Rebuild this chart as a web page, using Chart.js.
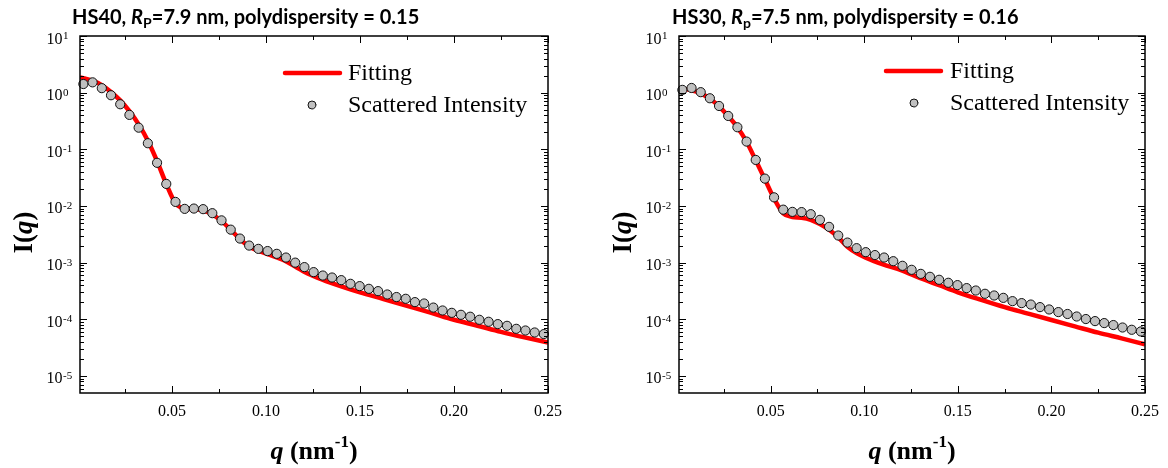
<!DOCTYPE html>
<html>
<head>
<meta charset="utf-8">
<title>SAXS fitting HS40 / HS30</title>
<script src="https://cdn.jsdelivr.net/npm/chart.js@4.4.1/dist/chart.umd.min.js"></script>
<style>
  html, body { margin: 0; padding: 0; background: #fff; }
  #figure { position: relative; width: 1168px; height: 468px; overflow: hidden; }
  #figure canvas { position: absolute; top: 0; }
</style>
</head>
<body>
<div id="figure">
  <canvas id="chartHS40" width="599" height="468" style="left:0"></canvas>
  <canvas id="chartHS30" width="569" height="468" style="left:599px"></canvas>
</div>
<script>
// measured q values (nm^-1), same grid for both samples
const qMeasured = [0.0028, 0.0077, 0.0126, 0.0175, 0.0224, 0.0273, 0.0322, 0.0371, 0.0420, 0.0469,
  0.0518, 0.0567, 0.0616, 0.0665, 0.0714, 0.0763, 0.0812, 0.0861, 0.0910, 0.0959,
  0.1008, 0.1057, 0.1106, 0.1155, 0.1204, 0.1253, 0.1302, 0.1351, 0.1400, 0.1449,
  0.1498, 0.1547, 0.1596, 0.1645, 0.1694, 0.1743, 0.1792, 0.1841, 0.1890, 0.1939,
  0.1988, 0.2037, 0.2086, 0.2135, 0.2184, 0.2233, 0.2282, 0.2331, 0.2380, 0.2429, 0.2478];

const intensityHS40 = [1.42, 1.52, 1.20, 0.90, 0.624, 0.405, 0.241, 0.128, 0.0578, 0.0245,
  0.0118, 0.00889, 0.0090, 0.00879, 0.00746, 0.00557, 0.00382, 0.00266, 0.00200, 0.00175,
  0.00160, 0.00143, 0.00123, 0.00100, 0.000834, 0.000680, 0.000592, 0.000546, 0.000491, 0.000423,
  0.000385, 0.000345, 0.000314, 0.000274, 0.000247, 0.000230, 0.000201, 0.000190, 0.000161, 0.000143,
  0.000130, 0.000120, 0.000111, 0.0000980, 0.0000904, 0.0000822, 0.0000767, 0.0000679, 0.0000634, 0.0000585, 0.0000548];

const intensityHS30 = [1.12, 1.21, 1.02, 0.796, 0.582, 0.388, 0.245, 0.137, 0.0650, 0.0304,
  0.0142, 0.00861, 0.00787, 0.00780, 0.00716, 0.00569, 0.00428, 0.00301, 0.00226, 0.00180,
  0.00153, 0.00136, 0.00123, 0.00106, 0.000879, 0.000747, 0.000634, 0.000562, 0.000498, 0.000441,
  0.000401, 0.000355, 0.000322, 0.000282, 0.000263, 0.000239, 0.000209, 0.000193, 0.000182, 0.000164,
  0.000149, 0.000134, 0.000124, 0.000112, 0.000101, 0.0000929, 0.0000857, 0.0000791, 0.0000716, 0.0000653, 0.0000610];

// fitted curves
const qFit = [0.001, 0.0028, 0.0077, 0.0126, 0.0175, 0.0224, 0.0273, 0.0322, 0.0371, 0.042,
  0.0469, 0.0518, 0.0567, 0.0616, 0.0665, 0.0714, 0.0763, 0.0812, 0.0861, 0.091,
  0.0959, 0.1008, 0.11, 0.12, 0.13, 0.14, 0.15, 0.1625, 0.175, 0.1875,
  0.20, 0.2125, 0.225, 0.2375, 0.25];

const fitHS40 = [1.86, 1.80, 1.64, 1.36, 1.03, 0.73, 0.47, 0.275, 0.142, 0.062,
  0.0245, 0.0112, 0.0090, 0.0088, 0.0083, 0.0071, 0.0054, 0.0038, 0.0026, 0.00192,
  0.00162, 0.00141, 0.00108, 0.00070, 0.00050, 0.00038, 0.000298, 0.000228, 0.000173, 0.000131,
  0.000098, 0.000077, 0.000060, 0.000048, 0.000039];

const fitHS30 = [1.17, 1.16, 1.10, 0.97, 0.78, 0.575, 0.385, 0.245, 0.136, 0.064,
  0.0295, 0.0135, 0.0074, 0.0064, 0.0062, 0.0057, 0.0048, 0.0038, 0.0028, 0.0019,
  0.00147, 0.00122, 0.00093, 0.00073, 0.00053, 0.00040, 0.000300, 0.000220, 0.000164, 0.000126,
  0.000097, 0.000075, 0.000058, 0.000046, 0.0000362];

// axes
const qTicks = [0.05, 0.10, 0.15, 0.20, 0.25];
const qMinorTicks = [0.025, 0.075, 0.125, 0.175, 0.225];
const yExponents = [1, 0, -1, -2, -3, -4, -5];

const SERIF = '"Liberation Serif", "Times New Roman", serif';
const TITLE_FONT = 'Lato, "Noto Sans", sans-serif';

function toPoints(xs, ys) {
  return xs.map((x, i) => ({ x: x, y: ys[i] }));
}

// draws several text pieces in a row; each piece: [text, font, dy]
function drawPieces(ctx, pieces, x, y, align) {
  let total = 0;
  pieces.forEach(p => { ctx.font = p[1]; total += ctx.measureText(p[0]).width; });
  let cx = align === 'center' ? x - total / 2 : x;
  ctx.textAlign = 'left';
  pieces.forEach(p => {
    ctx.font = p[1];
    ctx.fillText(p[0], cx, y + (p[2] || 0));
    cx += ctx.measureText(p[0]).width;
  });
}

const decorations = {
  id: 'decorations',
  afterDraw(chart, args, o) {
    const ctx = chart.ctx;
    const a = chart.chartArea;
    const xs = chart.scales.x;
    const ys = chart.scales.y;
    ctx.save();
    ctx.fillStyle = '#000';
    ctx.strokeStyle = '#000';

    // inward ticks on the four sides
    ctx.lineWidth = 1;
    ctx.beginPath();
    const tickX = (v, len) => {
      const x = Math.round(xs.getPixelForValue(v)) + 0.5;
      ctx.moveTo(x, a.bottom); ctx.lineTo(x, a.bottom - len);
      ctx.moveTo(x, a.top); ctx.lineTo(x, a.top + len);
    };
    const tickY = (v, len) => {
      const y = Math.round(ys.getPixelForValue(v)) + 0.5;
      ctx.moveTo(a.left, y); ctx.lineTo(a.left + len, y);
      ctx.moveTo(a.right, y); ctx.lineTo(a.right - len, y);
    };
    qTicks.forEach(v => tickX(v, 7));
    qMinorTicks.forEach(v => tickX(v, 4));
    yExponents.forEach(e => tickY(Math.pow(10, e), 7));
    for (let e = -6; e <= 0; e++) {
      for (let k = 2; k <= 9; k++) {
        const v = k * Math.pow(10, e);
        if (v >= ys.min && v <= ys.max) tickY(v, 4);
      }
    }
    ctx.stroke();

    // frame
    ctx.lineWidth = 1.5;
    ctx.strokeRect(a.left, a.top, a.right - a.left, a.bottom - a.top);

    // y tick labels 10^n
    ctx.textBaseline = 'alphabetic';
    yExponents.forEach(e => {
      const y = ys.getPixelForValue(Math.pow(10, e));
      ctx.font = '16px ' + SERIF;
      ctx.textAlign = 'right';
      ctx.fillText('10', a.left - 17.5, y + 7.5);
      ctx.font = '11px ' + SERIF;
      ctx.textAlign = 'left';
      ctx.fillText(String(e), a.left - 17, y + 3);
    });

    // y axis title I(q)
    ctx.save();
    ctx.translate(o.yTitleX, (a.top + a.bottom) / 2 + 18);
    ctx.rotate(-Math.PI / 2);
    drawPieces(ctx, [
      ['I(', 'bold 27px ' + SERIF],
      ['q', 'italic bold 27px ' + SERIF],
      [')', 'bold 27px ' + SERIF]
    ], 0, 0, 'center');
    ctx.restore();

    // x axis title q (nm-1)
    drawPieces(ctx, [
      ['q', 'italic bold 26px ' + SERIF],
      [' (nm', 'bold 26px ' + SERIF],
      ['-1', 'bold 17px ' + SERIF, -11.5],
      [')', 'bold 26px ' + SERIF]
    ], (a.left + a.right) / 2, 458.5, 'center');

    // chart title
    const t = o.title;
    const size = t.size;
    drawPieces(ctx, [
      [t.sample + ', ', 'bold ' + size + 'px ' + TITLE_FONT],
      ['R', 'italic bold ' + size + 'px ' + TITLE_FONT],
      [t.sub, 'bold ' + Math.round(size * 0.68) + 'px ' + TITLE_FONT, 4],
      ['=' + t.rest, 'bold ' + size + 'px ' + TITLE_FONT]
    ], t.x, 24, 'left');

    // legend, styles taken from the datasets
    const L = o.legend;
    const fit = chart.data.datasets[1];
    const meas = chart.data.datasets[0];
    ctx.strokeStyle = fit.borderColor;
    ctx.lineWidth = fit.borderWidth;
    ctx.lineCap = 'round';
    ctx.beginPath();
    ctx.moveTo(a.left + L.x1, L.y1); ctx.lineTo(a.left + L.x2, L.y1);
    ctx.stroke();
    ctx.beginPath();
    ctx.arc(a.left + L.dot, L.y2, 4, 0, Math.PI * 2);
    ctx.fillStyle = meas.pointBackgroundColor;
    ctx.fill();
    ctx.lineWidth = 1;
    ctx.strokeStyle = meas.pointBorderColor;
    ctx.stroke();
    ctx.fillStyle = '#000';
    ctx.font = '24px ' + SERIF;
    ctx.textBaseline = 'middle';
    ctx.textAlign = 'left';
    ctx.fillText(fit.label, a.left + L.text, L.y1 + 1);
    ctx.fillText(meas.label, a.left + L.text, L.y2 + 1);
    ctx.restore();
  }
};

function createChart(id, measured, fitted, rightPad, deco) {
  return new Chart(document.getElementById(id), {
    type: 'scatter',
    data: {
      datasets: [
        {
          label: 'Scattered Intensity',
          data: toPoints(qMeasured, measured),
          pointRadius: 4.6,
          pointBorderWidth: 1,
          pointBackgroundColor: '#c0c0c0',
          pointBorderColor: '#111',
          showLine: false,
          clip: false,
          order: 0
        },
        {
          label: 'Fitting',
          data: toPoints(qFit, fitted),
          showLine: true,
          borderColor: '#ff0000',
          borderWidth: 4.5,
          pointRadius: 0,
          cubicInterpolationMode: 'monotone',
          order: 1
        }
      ]
    },
    options: {
      responsive: false,
      animation: false,
      devicePixelRatio: 1,
      layout: { padding: { top: 36, right: rightPad, left: 0, bottom: 0 } },
      plugins: {
        legend: { display: false },
        tooltip: { enabled: false },
        decorations: deco
      },
      scales: {
        x: {
          type: 'linear',
          min: 0.001,
          max: 0.25,
          grid: { display: false, drawTicks: false },
          border: { display: false },
          afterBuildTicks: s => { s.ticks = qTicks.map(v => ({ value: v })); },
          afterFit: s => { s.height = 75; },
          ticks: {
            padding: 9,
            color: '#000',
            font: { family: SERIF, size: 16 },
            maxRotation: 0,
            autoSkip: false,
            callback: v => v.toFixed(2)
          }
        },
        y: {
          type: 'logarithmic',
          min: 5e-6,
          max: 10,
          grid: { display: false, drawTicks: false },
          border: { display: false },
          ticks: { display: false },
          afterFit: s => { s.width = 80; }
        }
      }
    },
    plugins: [decorations]
  });
}

window.chartHS40 = createChart('chartHS40', intensityHS40, fitHS40, 51, {
  yTitleX: 32,
  title: { sample: 'HS40', sub: 'P', rest: '7.9 nm, polydispersity = 0.15', x: 72, size: 20 },
  legend: { x1: 205, x2: 260, y1: 73, dot: 232, y2: 105, text: 268 }
});

window.chartHS30 = createChart('chartHS30', intensityHS30, fitHS30, 21, {
  yTitleX: 32,
  title: { sample: 'HS30', sub: 'p', rest: '7.5 nm, polydispersity = 0.16', x: 73, size: 20 },
  legend: { x1: 207, x2: 262, y1: 71, dot: 235, y2: 103, text: 271 }
});
</script>
</body>
</html>
